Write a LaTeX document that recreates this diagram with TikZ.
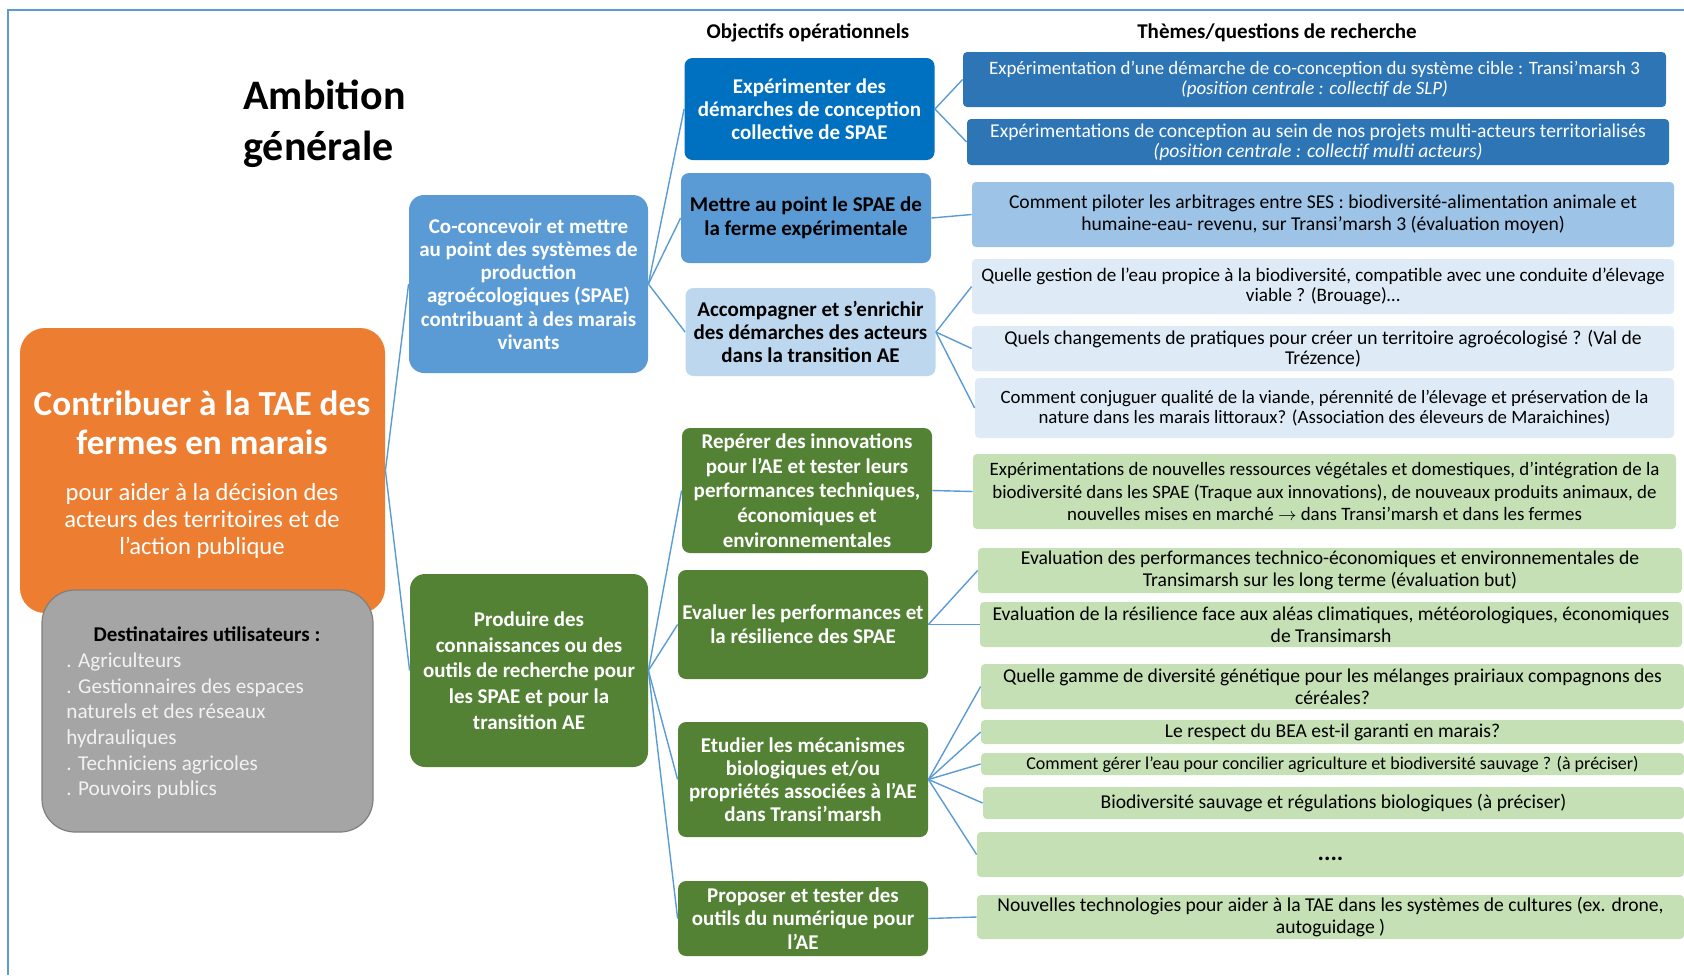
\documentclass[tikz,border=0pt]{standalone}
\usepackage{fontspec}
\setmainfont{Carlito}
\usepackage{tikz}
\usetikzlibrary{positioning}
\usepackage{xcolor}

\definecolor{frameblue}{HTML}{5B9BD5}
\definecolor{linkblue}{HTML}{5B9BD5}
\definecolor{taeorange}{HTML}{ED7D31}
\definecolor{destgray}{HTML}{A5A5A5}
\definecolor{destline}{HTML}{7F7F7F}
\definecolor{darkblue}{HTML}{0070C0}
\definecolor{midblue}{HTML}{5B9BD5}
\definecolor{paleblue}{HTML}{BDD7EE}
\definecolor{themeblue}{HTML}{2E75B6}
\definecolor{lightblue}{HTML}{9DC3E6}
\definecolor{iceblue}{HTML}{DEEBF7}
\definecolor{darkgreen}{HTML}{548235}
\definecolor{palegreen}{HTML}{C5E0B4}

\begin{document}
\begin{tikzpicture}[x=0.5pt, y=-0.5pt,
  box/.style={inner sep=0pt, align=center},
  link/.style={linkblue, line width=0.7pt},
  head/.style={inner sep=0pt, font=\fontsize{10.5}{12}\selectfont\bfseries},
  goal/.style={box, rounded corners=7.5pt, text=white, font=\fontsize{10.5}{11.6}\selectfont\bfseries},
  obj/.style={box, rounded corners=4pt, minimum width=125pt, font=\fontsize{10.5}{11.6}\selectfont\bfseries},
  theme/.style={box, rounded corners=2pt, font=\fontsize{9.8}{11}\selectfont},
]
\useasboundingbox (0,0) rectangle (1684,975);

% frame
\draw[frameblue, line width=1pt] (8,975) -- (8,10) -- (1684,10);

% titles
\node[inner sep=0pt, anchor=west, align=left, font=\fontsize{21}{25.5}\selectfont\bfseries] (ambition) at (243,124) {Ambition\\générale};
\node[head] (hobj) at (808,33) {Objectifs opérationnels};
\node[head] (hthem) at (1277,33) {Thèmes/questions de recherche};

% main ambition and users
\node[box, fill=taeorange, rounded corners=12.5pt, minimum width=182.5pt, minimum height=142.5pt] (tae) at (202.5,470.5) {};
\node[box, text=white, font=\fontsize{17.6}{19.5}\selectfont\bfseries] (taetitle) at (202,423) {Contribuer à la TAE des\\fermes en marais};
\node[box, text=white, font=\fontsize{12.3}{13.7}\selectfont] (taesub) at (202,521) {pour aider à la décision des\\acteurs des territoires et de\\l’action publique};

\node[box, fill=destgray, draw=destline, line width=0.6pt, rounded corners=16.5pt, minimum width=165.5pt, minimum height=121pt] (dest) at (207.5,711) {};
\node[box, font=\fontsize{10.5}{12.8}\selectfont\bfseries] (desthead) at (207,634.5) {Destinataires utilisateurs :};
\node[box, anchor=west, align=left, text=white!95!black, font=\fontsize{10.6}{12.85}\selectfont] (destlist) at (66,726) {. Agriculteurs\\. Gestionnaires des espaces\\naturels et des réseaux\\hydrauliques\\. Techniciens agricoles\\. Pouvoirs publics};

% level 1
\node[goal, fill=midblue, minimum width=119.5pt, minimum height=89pt] (coconc) at (528.5,284) {Co-concevoir et mettre\\au point des systèmes de\\production\\agroécologiques (SPAE)\\contribuant à des marais\\vivants};
\node[goal, fill=darkgreen, minimum width=119pt, minimum height=96.5pt, font=\fontsize{10.5}{12.9}\selectfont\bfseries] (produ) at (529,670.5) {Produire des\\connaissances ou des\\outils de recherche pour\\les SPAE et pour la\\transition AE};

% level 2
\node[obj, fill=darkblue, text=white, minimum height=51pt] (expe) at (809.5,109) {Expérimenter des\\démarches de conception\\collective de SPAE};
\node[obj, fill=midblue, minimum height=45pt, font=\fontsize{10.5}{12}\selectfont\bfseries] (mise) at (806,218) {Mettre au point le SPAE de\\la ferme expérimentale};
\node[obj, fill=paleblue, minimum height=44pt] (accomp) at (810.5,332) {Accompagner et s’enrichir\\des démarches des acteurs\\dans la transition AE};
\node[obj, fill=darkgreen, text=white, minimum height=62.5pt, font=\fontsize{10.5}{12.3}\selectfont\bfseries] (repere) at (807,490.5) {Repérer des innovations\\pour l’AE et tester leurs\\performances techniques,\\économiques et\\environnementales};
\node[obj, fill=darkgreen, text=white, minimum height=54.5pt, font=\fontsize{10.5}{12}\selectfont\bfseries] (evalu) at (803,624.5) {Evaluer les performances et\\la résilience des SPAE};
\node[obj, fill=darkgreen, text=white, minimum height=57.5pt] (etud) at (803,779.5) {Etudier les mécanismes\\biologiques et/ou\\propriétés associées à l’AE\\dans Transi’marsh};
\node[obj, fill=darkgreen, text=white, minimum height=37.5pt] (numer) at (803,918.5) {Proposer et tester des\\outils du numérique pour\\l’AE};

% level 3
\node[theme, fill=themeblue, text=white, minimum width=351.5pt, minimum height=27.5pt, font=\fontsize{9.45}{10}\selectfont] (cible) at (1314.5,79.5) {Expérimentation d’une démarche de co-conception du système cible : Transi’marsh 3\\\textit{(position centrale : collectif de SLP)}};
\node[theme, fill=themeblue, text=white, minimum width=351pt, minimum height=23pt, font=\fontsize{9.8}{10}\selectfont] (multi) at (1318,142) {Expérimentations de conception au sein de nos projets multi-acteurs territorialisés\\\textit{(position centrale : collectif multi acteurs)}};
\node[theme, fill=lightblue, minimum width=351pt, minimum height=32.5pt] (arbitr) at (1323,214.5) {Comment piloter les arbitrages entre SES : biodiversité-alimentation animale et\\humaine-eau- revenu, sur Transi’marsh 3 (évaluation moyen)};
\node[theme, fill=iceblue, minimum width=351pt, minimum height=27.5pt, font=\fontsize{9.55}{10}\selectfont] (eau) at (1323,286.5) {Quelle gestion de l’eau propice à la biodiversité, compatible avec une conduite d’élevage\\viable ? (Brouage)\dots};
\node[theme, fill=iceblue, minimum width=351pt, minimum height=22.5pt, font=\fontsize{9.8}{10}\selectfont] (trez) at (1323,348.5) {Quels changements de pratiques pour créer un territoire agroécologisé ? (Val de\\Trézence)};
\node[theme, fill=iceblue, minimum width=349.5pt, minimum height=30pt, font=\fontsize{9.4}{10}\selectfont] (viande) at (1324.5,408) {Comment conjuguer qualité de la viande, pérennité de l’élevage et préservation de la\\nature dans les marais littoraux? (Association des éleveurs de Maraichines)};
\node[theme, fill=palegreen, minimum width=351.5pt, minimum height=37.5pt, font=\fontsize{9.45}{11.25}\selectfont] (innov) at (1324.5,491.5) {Expérimentations de nouvelles ressources végétales et domestiques, d’intégration de la\\biodiversité dans les SPAE (Traque aux innovations), de nouveaux produits animaux, de\\nouvelles mises en marché $\rightarrow$ dans Transi’marsh et dans les fermes};
\node[theme, fill=palegreen, minimum width=352pt, minimum height=22.5pt] (perf) at (1330,570.5) {Evaluation des performances technico-économiques et environnementales de\\Transimarsh sur les long terme (évaluation but)};
\node[theme, fill=palegreen, minimum width=351pt, minimum height=22.5pt] (resil) at (1331,624.5) {Evaluation de la résilience face aux aléas climatiques, météorologiques, économiques\\de Transimarsh};
\node[theme, fill=palegreen, minimum width=351.5pt, minimum height=22.5pt] (gamme) at (1332.5,686.5) {Quelle gamme de diversité génétique pour les mélanges prairiaux compagnons des\\céréales?};
\node[theme, fill=palegreen, minimum width=351.5pt, minimum height=12pt] (bea) at (1332.5,732) {Le respect du BEA est-il garanti en marais?};
\node[theme, fill=palegreen, minimum width=351.5pt, minimum height=11pt, font=\fontsize{9}{10}\selectfont] (gerer) at (1332.5,764) {Comment gérer l’eau pour concilier agriculture et biodiversité sauvage ? (à préciser)};
\node[theme, fill=palegreen, minimum width=350.5pt, minimum height=16pt] (regul) at (1333.5,803) {Biodiversité sauvage et régulations biologiques (à préciser)};
\node[theme, fill=palegreen, minimum width=353.5pt, minimum height=22.5pt, font=\fontsize{12}{14}\selectfont\bfseries] (suite) at (1330.5,854.5) {\vphantom{Tg}....};
\node[theme, fill=palegreen, minimum width=353.5pt, minimum height=22pt] (techno) at (1330.5,917) {Nouvelles technologies pour aider à la TAE dans les systèmes de cultures (ex. drone,\\autoguidage )};

% connectors
\draw[link] (tae.east) -- (coconc.west);
\draw[link] (tae.east) -- (produ.west);

\foreach \o in {expe,mise,accomp}
  \draw[link] (coconc.east) -- (\o.west);
\foreach \o in {repere,evalu,etud,numer}
  \draw[link] (produ.east) -- (\o.west);

\foreach \t in {cible,multi}
  \draw[link] (expe.east) -- (\t.west);
\draw[link] (mise.east) -- (arbitr.west);
\foreach \t in {eau,trez,viande}
  \draw[link] (accomp.east) -- (\t.west);
\draw[link] (repere.east) -- (innov.west);
\foreach \t in {perf,resil}
  \draw[link] (evalu.east) -- (\t.west);
\foreach \t in {gamme,bea,gerer,regul,suite}
  \draw[link] (etud.east) -- (\t.west);
\draw[link] (numer.east) -- (techno.west);

\end{tikzpicture}
\end{document}
